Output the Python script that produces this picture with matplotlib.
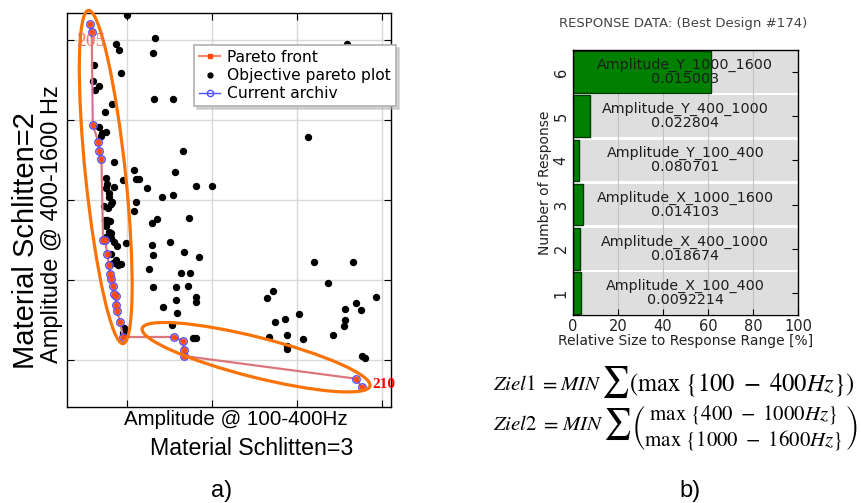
import matplotlib
matplotlib.use("Agg")
import matplotlib.pyplot as plt
from matplotlib.lines import Line2D
from matplotlib.patches import Ellipse
from matplotlib.transforms import ScaledTranslation

plt.rcParams['mathtext.fontset'] = 'stix'

# ---------------- data: panel a) ----------------
dots_x = [1.00, 1.323, 0.870, 0.898, 1.307, 0.921, 1.311, 1.539, 3.587, 0.606,
          0.594, 0.618, 0.669, 0.823, 0.740, 0.669, 0.705, 0.744, 0.689, 3.126,
          1.650, 0.839, 1.079, 1.098, 1.138, 1.559, 1.236, 1.811, 1.996, 0.949,
          0.748, 0.756, 0.748, 0.839, 0.783, 0.783, 0.811, 0.823, 1.406, 1.543,
          1.102, 1.075, 1.346, 1.291, 1.728, 0.728, 0.776, 0.736, 0.760, 0.791,
          0.748, 0.783, 0.811, 0.752, 0.803, 0.843, 0.878, 0.988, 1.287, 1.508,
          1.299, 1.665, 1.846, 0.803, 0.921, 0.894, 1.256, 1.630, 1.744, 1.307,
          1.575, 1.713, 1.815, 1.815, 1.579, 1.417, 1.587, 1.528, 1.776, 1.815,
          2.642, 2.720, 2.740, 2.858, 2.878, 2.878, 2.878, 3.024, 3.067, 2.665,
          3.201, 3.661, 3.370, 3.567, 3.697, 3.752, 3.563, 3.559, 3.425, 3.937,
          3.764, 3.803, 0.961, 0.969, 0.949, 0.870, 0.831]
dots_y = [5.32, 5.03, 4.954, 4.875, 4.846, 4.587, 4.262, 4.262, 4.954, 4.696,
          4.495, 4.379, 4.433, 4.203, 4.103, 3.916, 3.836, 3.853, 3.807, 3.790,
          3.619, 3.482, 3.373, 3.269, 3.269, 3.348, 3.152, 3.177, 3.177, 3.252,
          3.273, 3.202, 3.152, 3.165, 3.090, 3.035, 2.948, 2.973, 3.035, 3.061,
          2.973, 2.864, 2.760, 2.710, 2.773, 2.923, 2.902, 2.756, 2.752, 2.735,
          2.673, 2.598, 2.585, 2.543, 2.522, 2.481, 2.431, 2.468, 2.435, 2.472,
          2.314, 2.347, 2.293, 2.331, 2.205, 2.185, 2.139, 2.093, 2.093, 1.913,
          1.909, 1.930, 1.784, 1.722, 1.755, 1.667, 1.588, 1.442, 1.275, 1.275,
          1.776, 1.859, 1.476, 1.517, 1.317, 1.171, 1.138, 1.580, 1.263, 1.288,
          2.230, 2.230, 1.964, 1.634, 1.713, 1.630, 1.496, 1.430, 1.313, 1.792,
          1.046, 1.021, 1.400, 1.359, 1.338, 2.255, 2.214]

pareto_x = [0.563, 0.579, 0.591, 0.657, 0.669, 0.693, 0.713, 0.736, 0.764, 0.780,
            0.799, 0.811, 0.831, 0.843, 0.862, 0.870, 0.878, 0.913, 0.949, 1.551,
            1.650, 1.673, 1.669, 3.697, 3.764]
pareto_y = [5.209, 5.104, 3.945, 3.724, 3.611, 3.515, 2.506, 2.497, 2.326, 2.185,
            2.080, 2.014, 1.930, 1.830, 1.805, 1.688, 1.609, 1.475, 1.288, 1.288,
            1.238, 1.121, 1.050, 0.766, 0.662]

legend_labels = ["Pareto front", "Objective pareto plot", "Current archiv"]
point_labels = ["205", "210"]

# ---------------- data: panel b) ----------------
resp_numbers = [1, 2, 3, 4, 5, 6]
resp_values = [3.5, 3.2, 4.4, 2.7, 7.7, 61.3]
resp_names = ["Amplitude_X_100_400", "Amplitude_X_400_1000", "Amplitude_X_1000_1600",
              "Amplitude_Y_100_400", "Amplitude_Y_400_1000", "Amplitude_Y_1000_1600"]
resp_data = ["0.0092214", "0.018674", "0.014103", "0.080701", "0.022804", "0.015003"]
x_ticks_b = [0, 20, 40, 60, 80, 100]

W, H = 862, 503
fig = plt.figure(figsize=(W / 100, H / 100), dpi=100)
renderer = fig.canvas.get_renderer()

def fx(px):
    return px / W

def fy(py):
    return 1 - py / H

# ================= panel a =================
ax = fig.add_axes([fx(67), fy(407), fx(391) - fx(67), fy(13) - fy(407)])
ax.set_xlim(0.287, 4.11)
ax.set_ylim(0.412, 5.342)
ax.set_xticks([1, 2, 3, 4])
ax.set_yticks([1, 2, 3, 4, 5])
ax.tick_params(direction='in', top=True, right=True, labelbottom=False,
               labelleft=False, length=5, width=0.8)
ax.grid(True, color='#d9d9d9', lw=1.0)
ax.set_axisbelow(True)
for s in ax.spines.values():
    s.set_linewidth(1.0)

ax.plot(dots_x, dots_y, 'o', color='black', ms=4.3, ls='none', zorder=2)
ax.plot(pareto_x, pareto_y, '-', color='#f07a68', lw=1.6, zorder=3)
ax.plot(pareto_x, pareto_y, '-', color='#7060ff', lw=0.6, alpha=0.35, zorder=3)
ax.plot(pareto_x, pareto_y, 'o', ms=5.4, mfc='none', mec='#5050ff', mew=1.0, ls='none', zorder=4)
ax.plot(pareto_x, pareto_y, 'o', ms=3.8, mfc='#ff4a10', mec='#ff4a10', mew=0.5, ls='none', zorder=5)

ax.text(0.567, 4.98, point_labels[0], color='#f26b5b', alpha=0.9, fontsize=14,
        family='Liberation Serif', ha='center', va='center', zorder=7)
ax.text(4.026, 0.691, point_labels[1], color='red', fontsize=11, fontweight='bold',
        family='Liberation Serif', ha='center', va='center', zorder=7, clip_on=False)

ell_color = '#f97306'
t1 = fig.dpi_scale_trans + ScaledTranslation(0.744, 3.29, ax.transData)
ax.add_patch(Ellipse((0, 0), 0.40, 3.35, angle=5.95, transform=t1, fill=False,
                     ec=ell_color, lw=2.3, clip_on=False, zorder=6))
t2 = fig.dpi_scale_trans + ScaledTranslation(2.518, 1.035, ax.transData)
ax.add_patch(Ellipse((0, 0), 2.35, 0.40, angle=-14.2, transform=t2, fill=False,
                     ec=ell_color, lw=2.3, clip_on=False, zorder=6))

handles = [
    Line2D([], [], color='#f4876a', lw=1.5, marker='s', ms=3.5, mfc='#ff4a10', mec='#ff4a10'),
    Line2D([], [], color='black', ls='none', marker='o', ms=3.5),
    Line2D([], [], color='#5050ff', lw=1.0, marker='o', ms=4.5, mfc='none', mec='#5050ff'),
]
leg = ax.legend(handles, legend_labels, loc='upper left', bbox_to_anchor=(0.392, 0.919),
                borderaxespad=0, fontsize=11.2, handlelength=1.4, handletextpad=0.45,
                labelspacing=0.22, borderpad=0.3, fancybox=False, framealpha=1,
                edgecolor='#b0b0b0', shadow={'ox': 2, 'oy': -2, 'color': '#b0b0b0'})
leg.get_frame().set_linewidth(1.2)
leg.set_zorder(8)

fig.text(fx(235.5), fy(425), "Amplitude @ 100-400Hz", family='Liberation Sans',
         fontsize=14.8, ha='center', va='baseline')
fig.text(fx(251.5), fy(455), "Material Schlitten=3", family='Liberation Sans',
         fontsize=16.7, ha='center', va='baseline')
fig.text(fx(26), fy(240.5), "Material Schlitten=2", family='Liberation Sans',
         fontsize=21, rotation=90, ha='center', va='center')
fig.text(fx(52), fy(224.5), "Amplitude @ 400-1600 Hz", family='Liberation Sans',
         fontsize=17, rotation=90, ha='center', va='center')
fig.text(fx(222), fy(497), "a)", family='Liberation Sans', fontsize=17,
         ha='center', va='baseline')

# ================= panel b =================
ax2 = fig.add_axes([fx(572.7), fy(315), fx(798) - fx(572.7), fy(50) - fy(315)])
ax2.set_xlim(0, 100)
ax2.set_ylim(0.5, 6.5)
ax2.barh(resp_numbers, [100] * len(resp_numbers), height=0.94, color='#dedede', zorder=0)
for xv in x_ticks_b[1:-1]:
    ax2.axvline(xv, color='#c2c2c2', lw=0.8, zorder=1)
ax2.barh(resp_numbers, resp_values, height=0.94, color='#008000', edgecolor='#003a00',
         lw=1.0, zorder=2)
for n, name, val in zip(resp_numbers, resp_names, resp_data):
    ax2.text(50, n, name + "\n" + val, ha='center', va='center', fontsize=10.3,
             color='#1e1e1e', linespacing=1.0, zorder=3)
ax2.set_xticks(x_ticks_b)
ax2.set_yticks(resp_numbers)
ax2.set_yticklabels([str(n) for n in resp_numbers], rotation=90, va='center')
ax2.tick_params(direction='in', right=True, top=False, length=4, width=0.8,
                labelsize=10.5, labelcolor='#222222', pad=3)
ax2.set_xlabel("Relative Size to Response Range [%]", fontsize=10, color='#222222', labelpad=0)
ax2.set_ylabel("Number of Response", fontsize=10, color='#222222', labelpad=1)
for s in ax2.spines.values():
    s.set_linewidth(1.0)
fig.text(fx(683), fy(23), "RESPONSE DATA: (Best Design #174)", fontsize=9.5,
         color='#444444', ha='center', va='center')

# ================= formulas =================
fs = 15

def put(x, ybase, s, size=fs, va='baseline'):
    t = fig.text(fx(x), fy(ybase), s, fontsize=size, ha='left', va=va)
    return t, t.get_window_extent(renderer)

def put_fit(x, ybase, s, x_end, size, va='baseline'):
    t, bb = put(x, ybase, s, size=size, va=va)
    t.set_fontsize(size * (x_end - bb.x0) / bb.width)
    return t

def formula_head(label, ybase, ymid):
    _, bb = put(493, ybase, r'$%s$' % label)
    _, bb = put(bb.x1 + 3, ybase, r'$=$')
    _, bb = put(bb.x1 + 3, ybase, r'$MIN$')
    _, bb = put(bb.x1 - 1, ymid, r'$\sum$', size=22, va='center')
    return bb.x1

x1 = formula_head('Ziel1', 390, 382)
put_fit(x1, 390, r'$(\max\ \{100\ -\ 400Hz\})$', 855, fs)

x2 = formula_head('Ziel2', 430, 424)
put_fit(x2, 428,
        r'$\genfrac{(}{)}{0}{0}{\max\ \{400\ -\ 1000Hz\}}{\max\ \{1000\ -\ 1600Hz\}}$',
        858, fs, va='center')

fig.text(fx(690), fy(497), "b)", family='Liberation Sans', fontsize=17,
         ha='center', va='baseline')

fig.savefig("out.png", dpi=100)
